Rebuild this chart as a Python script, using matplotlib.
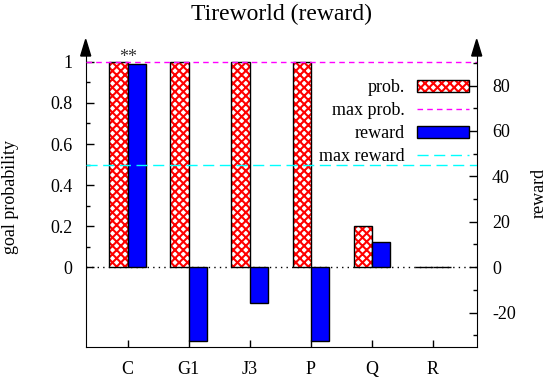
import matplotlib
matplotlib.use("Agg")
import matplotlib.pyplot as plt
import numpy as np
from matplotlib.patches import Patch, Polygon
from matplotlib.lines import Line2D

plt.rcParams['font.family'] = ['Liberation Serif', 'DejaVu Serif']
plt.rcParams['axes.unicode_minus'] = False
plt.rcParams['hatch.linewidth'] = 1.5

categories = ['C', 'G1', 'J3', 'P', 'Q', 'R']
prob = [1.0, 1.0, 1.0, 1.0, 0.2, 0.0]
reward = [89.3, -32.4, -15.8, -32.4, 10.9, 0.0]
max_prob = 1.0
max_reward = 45.0

fig = plt.figure(figsize=(5.49, 3.77), dpi=100)
ax = fig.add_axes([0.1561, 0.0804, 0.7122, 0.7711])
ax2 = ax.twinx()

x = np.arange(len(categories))
w = 0.3

# prob bars: red hatch, black outline
ax.bar(x - w / 2, prob, w, facecolor='white', edgecolor='red', hatch='xxxx', linewidth=0, zorder=2)
ax.bar(x - w / 2, prob, w, fill=False, edgecolor='black', linewidth=1.0, zorder=3)
# reward bars
ax2.bar(x + w / 2, reward, w, color='blue', edgecolor='black', linewidth=1.0, zorder=2)

ax.axhline(0, color='black', linestyle=(0, (1, 3)), linewidth=1.0, zorder=1)
ax.axhline(max_prob, color='magenta', linewidth=1.0, dashes=(4, 3), zorder=4)
ax2.axhline(max_reward, color='cyan', linewidth=1.0, dashes=(8, 4), zorder=4)

ax.text(0, 1.0, '**', ha='center', va='baseline', fontsize=13, color='#333333')

r_lo, r_hi = -35, 93
ratio = 90.4
ax2.set_ylim(r_lo, r_hi)
ax.set_ylim(r_lo / ratio, r_hi / ratio)
ax.set_xlim(-0.688, 5.716)

ax.set_yticks([0, 0.2, 0.4, 0.6, 0.8, 1])
ax.set_yticklabels(['0', '0.2', '0.4', '0.6', '0.8', '1'])
ax.set_yticks([0.1, 0.3, 0.5, 0.7, 0.9], minor=True)
ax2.set_yticks([-20, 0, 20, 40, 60, 80])
ax2.set_yticks([-30, -10, 10, 30, 50, 70, 90], minor=True)
ax.set_xticks(x)
ax.set_xticklabels(categories)

ax.tick_params(axis='y', which='major', direction='in', length=6, width=1, pad=9.4, labelsize=13)
ax.tick_params(axis='y', which='minor', direction='in', length=3, width=1)
ax2.tick_params(axis='y', which='major', direction='in', length=6, width=1, pad=11, labelsize=13)
ax2.tick_params(axis='y', which='minor', direction='in', length=3, width=1)
ax.tick_params(axis='x', direction='in', length=5, width=1, pad=10, labelsize=13)

for a in (ax, ax2):
    a.spines['top'].set_visible(False)
ax.spines['right'].set_visible(False)
ax2.spines['left'].set_visible(False)
ax2.spines['bottom'].set_visible(False)

# arrow heads on top of the y axes
for xa in (0.0, 1.0):
    tri = Polygon([[xa - 0.0128, 1.0], [xa + 0.0128, 1.0], [xa, 1.057]], closed=True,
                  facecolor='black', edgecolor='black', transform=ax.transAxes, clip_on=False)
    ax2.add_patch(tri)

handles = [
    (Patch(facecolor='white', edgecolor='red', hatch='xxxx', linewidth=0),
     Patch(fill=False, edgecolor='black', linewidth=1.0)),
    Line2D([], [], color='magenta', linewidth=1.0, dashes=(4, 3)),
    Patch(facecolor='blue', edgecolor='black', linewidth=1.0),
    Line2D([], [], color='cyan', linewidth=1.0, dashes=(8, 4)),
]
labels = ['prob.', 'max prob.', 'reward', 'max reward']
ax2.legend(handles, labels, loc='upper right', bbox_to_anchor=(0.980, 0.920),
           frameon=False, markerfirst=False, fontsize=13, borderpad=0, borderaxespad=0,
           handlelength=2.9, handletextpad=0.65, labelspacing=0.33)

fig.text(0.5125, 1 - 14 / 377, 'Tireworld (reward)', ha='center', va='center', fontsize=17)
fig.text(11 / 549, 1 - 197 / 377, 'goal probability', rotation=90, ha='center', va='center', fontsize=13)
fig.text(539 / 549, 1 - 193 / 377, 'reward', rotation=90, ha='center', va='center', fontsize=13)

fig.savefig('out.png', dpi=100)
